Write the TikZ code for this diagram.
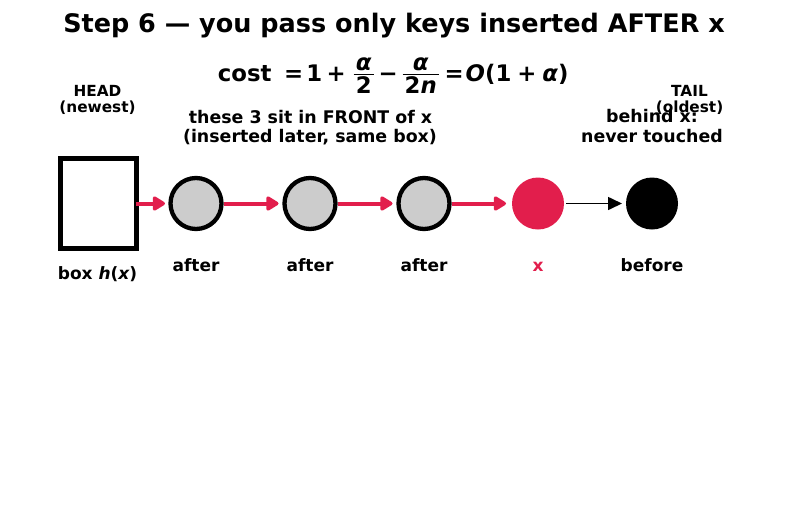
\documentclass[tikz,border=0pt]{standalone}
\usepackage{fontspec}
\setmainfont{DejaVu Sans}
\usetikzlibrary{arrows.meta}
\definecolor{xred}{RGB}{226,30,76}
\definecolor{gfill}{RGB}{204,204,204}
\newcommand{\fsz}[1]{\fontsize{#1}{#1}\selectfont\bfseries}
\newcommand{\putat}[2]{\makebox[0pt][l]{\hspace*{#1pt}\makebox[0pt][c]{#2}}}
\newcommand{\putleft}[2]{\makebox[0pt][l]{\hspace*{#1pt}#2}}
\newcommand{\fracat}[4]{\putat{#1}{\raisebox{11.7pt}{#2}}\putat{#1}{\raisebox{-11.6pt}{#3}}\putat{#1}{\rule[6.8pt]{#4pt}{1.3pt}}}
\begin{document}
\begin{tikzpicture}[x=1pt,y=-1pt,
  gnode/.style={circle,draw=black,line width=4.3pt,fill=gfill,minimum size=51pt,inner sep=0pt,outer sep=0pt},
  xnode/.style={circle,fill=xred,minimum size=52pt,inner sep=0pt,outer sep=0pt},
  bnode/.style={circle,fill=black,minimum size=52pt,inner sep=0pt,outer sep=0pt},
  boxnode/.style={draw=black,line width=5pt,minimum width=75.7pt,minimum height=90pt,inner sep=0pt,outer sep=0pt},
  redarrow/.style={draw=xred,line width=4pt,-{Triangle[length=14pt,width=16pt,round]}},
  blackarrow/.style={draw=black,line width=1.6pt,-{Triangle[length=14pt,width=13pt]}},
  lbl/.style={anchor=base,font=\fsz{17}},
  small/.style={anchor=base,font=\fsz{15.3}},
  mid/.style={anchor=base,font=\fsz{17.4}}]
\useasboundingbox (0,0) rectangle (787,512);
\node[anchor=base,font=\fsz{25.5}] (title) at (394,32.3) {Step 6 — you pass only keys inserted AFTER x};
\node[anchor=base west,inner sep=0pt,font=\fsz{22.8}] (formula) at (217,81.7) {\putat{27}{cost}\putat{76}{=}\putat{96.5}{1}\putat{118.5}{+}\fracat{146}{\itshape α}{2}{20}\putat{170.5}{−}\fracat{203}{\itshape α}{2{\itshape n}}{36}\putat{236.5}{=}\putleft{248}{{\itshape O}(1\hspace{6pt}+\hspace{6pt}{\itshape α})}};
\node[small] (head) at (97.5,96.3) {HEAD};
\node[small] (newest) at (97.5,112.5) {(newest)};
\node[small] (tail) at (689.5,96.3) {TAIL};
\node[small] (oldest) at (689.5,112.5) {(oldest)};
\node[mid] (front1) at (310.5,123) {these 3 sit in FRONT of x};
\node[mid] (front2) at (310,142) {(inserted later, same box)};
\node[mid] (behind1) at (652,122.3) {behind x:};
\node[mid] (behind2) at (652,142) {never touched};
\node[boxnode] (box) at (98.6,203.5) {};
\node[gnode] (a1) at (196,203.5) {};
\node[gnode] (a2) at (310,203.5) {};
\node[gnode] (a3) at (424,203.5) {};
\node[xnode] (x) at (538,203.5) {};
\node[bnode] (b) at (652,203.5) {};
\draw[redarrow,shorten >=5.5pt] (box.east) -- (a1.west);
\draw[redarrow,shorten <=2pt,shorten >=6pt] (a1.east) -- (a2.west);
\draw[redarrow,shorten <=2pt,shorten >=6pt] (a2.east) -- (a3.west);
\draw[redarrow,shorten <=2pt,shorten >=6pt] (a3.east) -- (x.west);
\draw[blackarrow,shorten <=2pt,shorten >=4pt] (x.east) -- (b.west);
\node[lbl] (boxlbl) at (97.5,279.3) {box {\itshape h}({\itshape x})};
\node[lbl] (l1) at (196,271.7) {after};
\node[lbl] (l2) at (310,271.7) {after};
\node[lbl] (l3) at (424,271.7) {after};
\node[lbl,text=xred] (lx) at (538,271.7) {x};
\node[lbl] (lb) at (652,271.7) {before};
\end{tikzpicture}
\end{document}
